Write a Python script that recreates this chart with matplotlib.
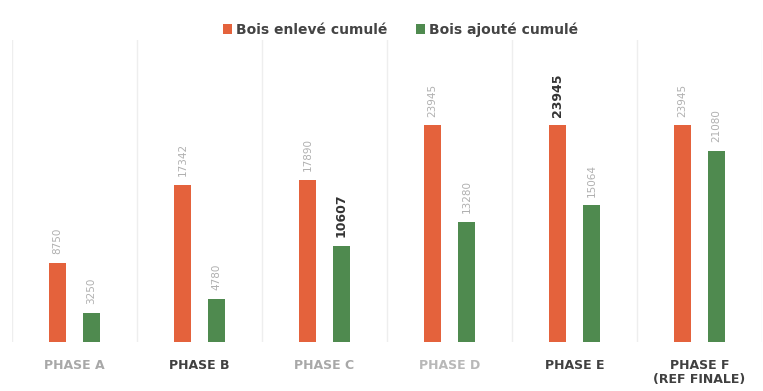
import matplotlib
matplotlib.use('Agg')
import matplotlib.pyplot as plt
import numpy as np

phases = ['PHASE A', 'PHASE B', 'PHASE C', 'PHASE D', 'PHASE E', 'PHASE F\n(REF FINALE)']
enleve = [8750, 17342, 17890, 23945, 23945, 23945]
ajoute = [3250, 4780, 10607, 13280, 15064, 21080]
# labels drawn in bold dark (the rest are pale in the scan)
bold_enleve = [False, False, False, False, True, False]
bold_ajoute = [False, False, True, False, False, False]
label_colors = ['#a8a8a8', '#404040', '#a8a8a8', '#b8b8b8', '#404040', '#404040']

c_orange = '#E4623C'
c_green = '#4F8A4F'

fig = plt.figure(figsize=(7.63, 3.91), dpi=100)
ax = fig.add_axes([12 / 763, 1 - 342 / 391, 750 / 763, 302 / 391])

x = np.arange(len(phases))
w = 0.136
off = 0.136
b1 = ax.bar(x - off, enleve, w, color=c_orange, label='Bois enlevé cumulé')
b2 = ax.bar(x + off, ajoute, w, color=c_green, label='Bois ajouté cumulé')

ax.set_xlim(-0.5, len(phases) - 0.5)
ax.set_ylim(0, 33300)

for xi, v, b in zip(x - off, enleve, bold_enleve):
    ax.annotate(str(v), (xi, v), xytext=(0, 6), textcoords='offset points',
                rotation=90, ha='center', va='bottom',
                fontsize=9 if b else 7.5, fontweight='bold' if b else 'normal',
                color='#333333' if b else '#b0b0b0')
for xi, v, b in zip(x + off, ajoute, bold_ajoute):
    ax.annotate(str(v), (xi, v), xytext=(0, 6), textcoords='offset points',
                rotation=90, ha='center', va='bottom',
                fontsize=9 if b else 7.5, fontweight='bold' if b else 'normal',
                color='#333333' if b else '#b0b0b0')

# faint vertical separators between phases
for s in np.arange(-0.5, len(phases), 1.0):
    ax.axvline(s, color='#eeeeee', lw=1, zorder=0)

ax.set_xticks(x)
ax.set_xticklabels(phases, fontsize=9, fontweight='bold', linespacing=1.1)
for t, c in zip(ax.get_xticklabels(), label_colors):
    t.set_color(c)
ax.tick_params(axis='x', length=0, pad=12)
ax.set_yticks([])
for sp in ax.spines.values():
    sp.set_visible(False)

fig.legend(loc='upper center', bbox_to_anchor=(0.525, 0.975), ncol=2, frameon=False,
           handlelength=0.7, handleheight=0.7, handletextpad=0.3, columnspacing=2.0,
           prop={'size': 10, 'weight': 'bold'}, labelcolor='#444444')

fig.savefig('out.png', dpi=100)
